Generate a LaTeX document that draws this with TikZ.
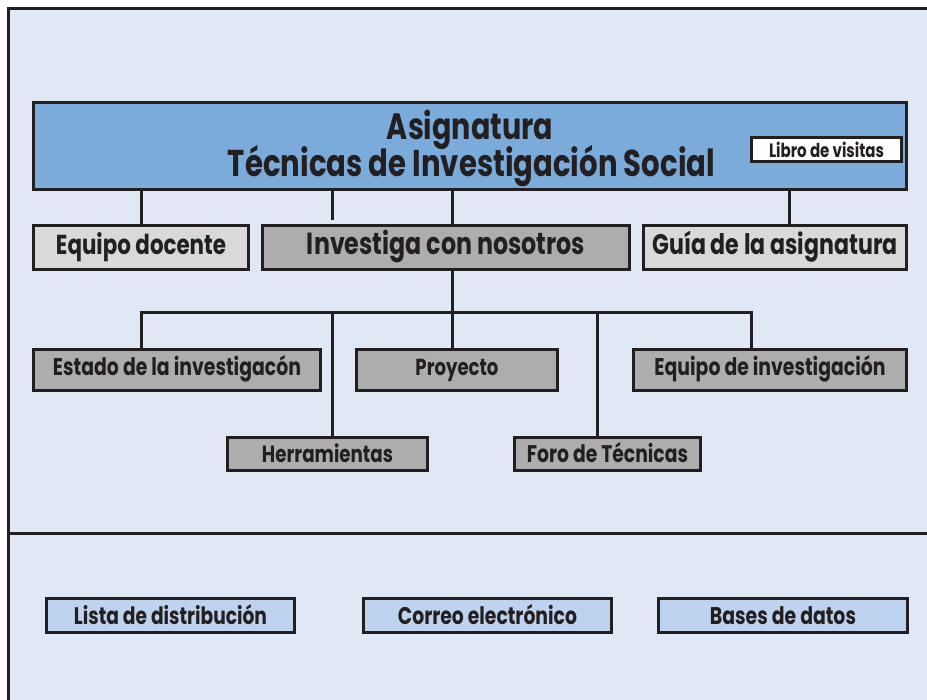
\documentclass[tikz,border=0pt]{standalone}
\usepackage{fontspec}
\usepackage{graphicx}
\newfontfamily\fut[FakeStretch=0.78]{Poppins}
\definecolor{bg}{HTML}{E1E8F5}
\definecolor{ink}{HTML}{231F20}
\definecolor{mainblue}{HTML}{7AABDB}
\definecolor{lgray}{HTML}{D9D9D9}
\definecolor{dgray}{HTML}{ADADAD}
\definecolor{lblue}{HTML}{BDD3EF}
\newcommand\tw[2]{\resizebox{#1pt}{!}{\fut\bfseries #2}}
\begin{document}
\begin{tikzpicture}[x=1pt,y=-1pt,
  bx/.style={draw=ink, line width=3pt, inner sep=0pt, text=ink},
  conn/.style={draw=ink, line width=3pt},
  txt/.style={inner sep=0pt, text=ink, anchor=base}]
\useasboundingbox (0,0) rectangle (927,700);
% frame
\fill[bg] (8.5,8.5) rectangle (927,700);
\draw[conn] (8.5,700) -- (8.5,8.5) -- (927,8.5);
\draw[conn] (8.5,534) -- (927,534);

% top box
\node[bx, fill=mainblue, minimum width=873pt, minimum height=87pt] (main) at (470,146) {};
\node[txt] (t1) at (470,140) {\tw{166}{Asignatura}};
\node[txt] (t2) at (471.5,177) {\tw{487}{Técnicas de Investigación Social}};
\node[bx, fill=white, minimum width=150pt, minimum height=24pt, text height=15.6pt, text depth=0pt] (libro) at (826.5,149.5) {\tw{115}{Libro de visitas}};

% second row
\node[bx, fill=lgray, minimum width=215pt, minimum height=44pt, text height=20pt, text depth=5pt] (ed) at (141,247.5) {\tw{170}{Equipo docente}};
\node[bx, fill=dgray, minimum width=367pt, minimum height=44pt, text height=21.7pt, text depth=6.7pt] (inv) at (446,247.5) {\tw{278}{Investiga con nosotros}};
\node[bx, fill=lgray, minimum width=263pt, minimum height=44pt, text height=21.7pt, text depth=6.7pt] (gu) at (775,247.5) {\tw{245}{Guía de la asignatura}};

% third row
\node[bx, fill=dgray, minimum width=287pt, minimum height=41pt, text height=15.7pt, text depth=4.3pt] (es) at (177,370) {\tw{248}{Estado de la investigacón}};
\node[bx, fill=dgray, minimum width=201pt, minimum height=41pt, text height=15.7pt, text depth=4.3pt] (pr) at (457,370) {\tw{83}{Proyecto}};
\node[bx, fill=dgray, minimum width=273pt, minimum height=41pt, text height=15.7pt, text depth=4.3pt] (ei) at (770,370) {\tw{231}{Equipo de investigación}};

% fourth row
\node[bx, fill=dgray, minimum width=200pt, minimum height=33pt, text height=17.4pt, text depth=0pt] (he) at (327.5,454) {\tw{131}{Herramientas}};
\node[bx, fill=dgray, minimum width=186pt, minimum height=33pt, text height=17.4pt, text depth=0pt] (fo) at (607.5,454) {\tw{161}{Foro de Técnicas}};

% bottom row
\node[bx, fill=lblue, minimum width=248pt, minimum height=34pt, text height=17pt, text depth=0pt] (li) at (170.5,615.5) {\tw{193}{Lista de distribución}};
\node[bx, fill=lblue, minimum width=248pt, minimum height=34pt, text height=17pt, text depth=0pt] (co) at (487.5,615.5) {\tw{179}{Correo electrónico}};
\node[bx, fill=lblue, minimum width=249pt, minimum height=34pt, text height=17pt, text depth=0pt] (ba) at (783,615.5) {\tw{146}{Bases de datos}};

% connectors
\coordinate (stub) at (332,220);
\coordinate (xa) at (452,0);
\coordinate (xg) at (789,0);
\coordinate (xh) at (332,0);
\coordinate (xf) at (597,0);
\coordinate (xe) at (751,0);
\coordinate (bar) at (0,313);
\draw[conn] (main.south -| ed.north) -- (ed.north);
\draw[conn] (main.south -| stub) -- (stub);
\draw[conn] (main.south -| xa) -- (inv.north -| xa);
\draw[conn] (main.south -| xg) -- (gu.north -| xg);
\draw[conn] (inv.south -| xa) -- (pr.north -| xa);
\draw[conn] (es.north -| ed.north) -- (bar -| ed.north) -- (bar -| xe) -- (ei.north -| xe);
\draw[conn] (bar -| xh) -- (he.north -| xh);
\draw[conn] (bar -| xf) -- (fo.north -| xf);
\end{tikzpicture}
\end{document}
